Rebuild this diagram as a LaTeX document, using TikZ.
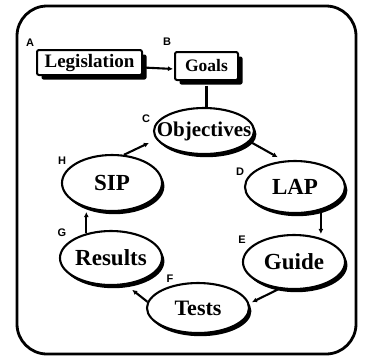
\documentclass[tikz,border=0pt]{standalone}
\usepackage{fontspec}
\setmainfont{Liberation Serif}
\setsansfont{Liberation Sans}
\usetikzlibrary{shapes.geometric,shadows,arrows.meta}
\begin{document}
\begin{tikzpicture}[x=1pt,y=-1pt,
  ell/.style={ellipse,draw,line width=2.1pt,fill=white,inner sep=0pt,
    drop shadow={shadow xshift=2.4pt,shadow yshift=-3.2pt,opacity=1,fill=black},
    font=\fontsize{23}{23}\selectfont\bfseries},
  boxn/.style={rectangle,rounded corners=2pt,draw,line width=2pt,fill=white,inner sep=0pt,
    drop shadow={shadow xshift=4.5pt,shadow yshift=-4.5pt,opacity=1,fill=black},
    font=\fontsize{19}{19}\selectfont\bfseries},
  lab/.style={font=\fontsize{11}{11}\selectfont\sffamily\bfseries,inner sep=0pt},
  arr/.style={line width=2.1pt,-{Latex[length=5pt,width=5pt]}},
  ln/.style={line width=2.1pt}]
\useasboundingbox (0,0) rectangle (366,360);
\node[draw,line width=2.8pt,rounded corners=30pt,minimum width=339pt,minimum height=348pt,inner sep=0pt] (frame) at (186.5,180) {};
% boxes
\node[boxn,minimum width=105pt,minimum height=25pt] (leg) at (89.5,62.5) {Legislation};
\node[boxn,minimum width=63pt,minimum height=28pt,font=\fontsize{17.5}{17.5}\selectfont\bfseries] (goals) at (206.5,66) {Goals};
% ellipses
\node[ell,minimum width=100pt,minimum height=46pt,font=\fontsize{21}{21}\selectfont\bfseries] (obj) at (204,131) {\makebox[0pt]{Objectives}};
\node[ell,minimum width=100pt,minimum height=56pt] (sip) at (112,183) {\makebox[0pt]{SIP}};
\node[ell,minimum width=100pt,minimum height=52pt] (lap) at (295,187) {\makebox[0pt]{LAP}};
\node[ell,minimum width=102pt,minimum height=54pt] (guide) at (294,262) {\makebox[0pt]{Guide}};
\node[ell,minimum width=102pt,minimum height=54pt] (res) at (111,258) {\makebox[0pt]{Results}};
\node[ell,minimum width=102pt,minimum height=50pt,font=\fontsize{22}{22}\selectfont\bfseries] (tests) at (198,308) {\makebox[0pt]{Tests}};
% letters
\node[lab] (la) at (30,43) {A};
\node[lab] (lb) at (167,42) {B};
\node[lab] (lc) at (146,119) {C};
\node[lab] (ld) at (240,172) {D};
\node[lab] (le) at (242,240) {E};
\node[lab] (lf) at (170,279) {F};
\node[lab] (lg) at (62,233) {G};
\node[lab] (lh) at (62,161) {H};
% connectors
\draw[arr,shorten >=1pt] ([yshift=-5pt]leg.east) -- ([yshift=-3pt]goals.west);
\draw[ln] ([yshift=-4.5pt]goals.south) -- (goals.south |- obj.north);
\draw[arr,shorten >=7pt] (obj.-13) -- (lap.113);
\draw[arr] (lap.-42) -- (lap.-42 |- guide.north);
\draw[arr,shorten >=3pt] (guide.241) -- (tests.5);
\draw[arr,shorten >=8pt] (tests.173) -- (res.-61);
\draw[arr] (res.135) -- (res.135 |- sip.south);
\draw[arr,shorten >=8pt] (sip.67) -- (obj.190);
\end{tikzpicture}
\end{document}
